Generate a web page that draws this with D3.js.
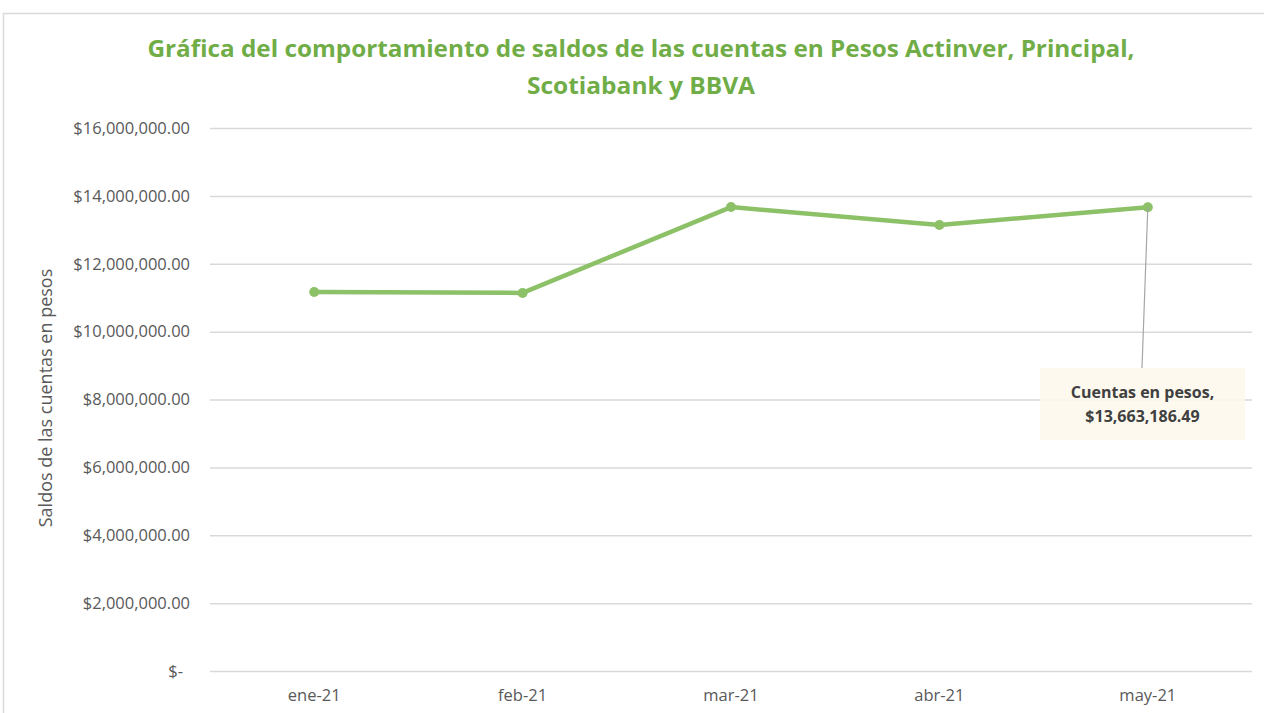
<!DOCTYPE html>
<html>
<head>
<meta charset="utf-8">
<script src="https://cdn.jsdelivr.net/npm/d3@7"></script>
<style>
  body { margin: 0; background: #fff; }
  svg { display: block; }
</style>
</head>
<body>
<div id="chart"></div>
<script>
const width = 1264;
const height = 713;

// data
const months = ["ene-21", "feb-21", "mar-21", "abr-21", "may-21"];
const saldos = [11170000, 11140000, 13670000, 13140000, 13663186.49];
const yTicks = [0, 2000000, 4000000, 6000000, 8000000, 10000000, 12000000, 14000000, 16000000];
const titleLines = ["Gráfica  del comportamiento de saldos de las cuentas en Pesos Actinver, Principal,", "Scotiabank y BBVA"];
const labelLines = ["Cuentas en pesos,", "$13,663,186.49"];

const margin = { top: 128, right: 12, bottom: 42, left: 210 };
const font = "'Open Sans', 'Noto Sans', sans-serif";

const svg = d3.select("#chart").append("svg")
    .attr("width", width)
    .attr("height", height);

// chart frame
svg.append("rect")
    .attr("x", 3.5).attr("y", 13.5)
    .attr("width", width).attr("height", height)
    .attr("fill", "#fff")
    .attr("stroke", "#d9d9d9")
    .attr("stroke-width", 1.5);

const xScale = d3.scaleBand()
    .domain(months)
    .range([margin.left, width - margin.right]);

const yScale = d3.scaleLinear()
    .domain([0, 16000000])
    .range([height - margin.bottom, margin.top]);

const fmt = d3.format("$,.2f");
const tickText = v => v === 0 ? "$-" : fmt(v);

// gridlines + y labels
const yAxis = d3.axisLeft(yScale)
    .tickValues(yTicks)
    .tickSize(-(width - margin.right - margin.left))
    .tickPadding(20)
    .tickFormat(tickText);

const gy = svg.append("g")
    .attr("transform", `translate(${margin.left},0)`)
    .call(yAxis);
gy.select(".domain").remove();
gy.selectAll(".tick line").attr("stroke", "#d9d9d9").attr("stroke-width", 1.5);
gy.selectAll(".tick text")
    .attr("fill", "#595959")
    .style("font-family", font)
    .style("font-size", "16.5px");
gy.selectAll(".tick text").filter(d => d === 0).attr("dx", -7);

// x labels
const xAxis = d3.axisBottom(xScale).tickSize(0).tickPadding(18);
const gx = svg.append("g")
    .attr("transform", `translate(0,${height - margin.bottom})`)
    .call(xAxis);
gx.select(".domain").remove();
gx.selectAll(".tick text")
    .attr("fill", "#595959")
    .style("font-family", font)
    .style("font-size", "16.5px");

// y axis title
svg.append("text")
    .attr("transform", `translate(52,398) rotate(-90)`)
    .attr("text-anchor", "middle")
    .attr("fill", "#595959")
    .style("font-family", font)
    .style("font-size", "18px")
    .text("Saldos de las cuentas en pesos");

// title
svg.selectAll(".title")
    .data(titleLines)
    .join("text")
    .attr("class", "title")
    .attr("x", 641)
    .attr("y", (d, i) => 57 + i * 37)
    .attr("text-anchor", "middle")
    .attr("fill", "#70ad47")
    .attr("textLength", (d, i) => i === 0 ? 987 : 228)
    .attr("lengthAdjust", "spacingAndGlyphs")
    .style("font-family", font)
    .style("font-weight", "bold")
    .style("font-size", "23px")
    .text(d => d);

const points = months.map((m, i) => ({ m, v: saldos[i] }));
const cx = d => xScale(d.m) + xScale.bandwidth() / 2;

const line = d3.line()
    .x(cx)
    .y(d => yScale(d.v));

svg.append("path")
    .datum(points)
    .attr("d", line)
    .attr("fill", "none")
    .attr("stroke", "#8cc168")
    .attr("stroke-width", 4.5)
    .attr("stroke-linejoin", "round");

svg.selectAll(".dot")
    .data(points)
    .join("circle")
    .attr("class", "dot")
    .attr("cx", cx)
    .attr("cy", d => yScale(d.v))
    .attr("r", 5)
    .attr("fill", "#8cc168");

// data label callout for the last point
const last = points[points.length - 1];
const boxX = 1040, boxY = 368, boxW = 205, boxH = 72;

svg.append("line")
    .attr("x1", cx(last)).attr("y1", yScale(last.v))
    .attr("x2", 1142).attr("y2", boxY)
    .attr("stroke", "#a6a6a6")
    .attr("stroke-width", 1.2);

svg.append("rect")
    .attr("x", boxX).attr("y", boxY)
    .attr("width", boxW).attr("height", boxH)
    .attr("fill", "#fdf8ec")
    .attr("fill-opacity", 0.9);

svg.selectAll(".lbl")
    .data(labelLines)
    .join("text")
    .attr("class", "lbl")
    .attr("x", boxX + boxW / 2)
    .attr("y", (d, i) => 398 + i * 24)
    .attr("text-anchor", "middle")
    .attr("fill", "#404040")
    .style("font-family", font)
    .style("font-weight", "bold")
    .style("font-size", "16px")
    .text(d => d);
</script>
</body>
</html>
